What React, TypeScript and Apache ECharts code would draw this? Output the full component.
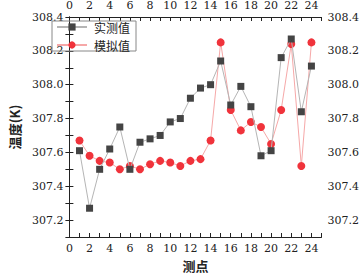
import React, { useEffect, useRef } from "react";
import * as echarts from "echarts";

const points = [1, 2, 3, 4, 5, 6, 7, 8, 9, 10, 11, 12, 13, 14, 15, 16, 17, 18, 19, 20, 21, 22, 23, 24];
const measured = [307.61, 307.27, 307.5, 307.62, 307.75, 307.5, 307.66, 307.68, 307.7, 307.78, 307.8, 307.92, 307.98, 308.0, 308.14, 307.88, 307.99, 307.87, 307.58, 307.61, 308.16, 308.27, 307.84, 308.11];
const simulated = [307.67, 307.58, 307.55, 307.54, 307.5, 307.52, 307.5, 307.53, 307.55, 307.54, 307.52, 307.55, 307.56, 307.67, 308.25, 307.85, 307.73, 307.78, 307.75, 307.65, 307.85, 308.24, 307.52, 308.25];
const seriesNames = ["实测值", "模拟值"];
const xTitle = "测点";
const yTitle = "温度(K)";

const serif = "DejaVu Serif";
const cjk = "Noto Sans CJK SC";

export default function App() {
  const ref = useRef<HTMLDivElement>(null);
  useEffect(() => {
    if (!ref.current) return;
    const chart = echarts.init(ref.current, undefined, { renderer: "svg" });
    const axisLine = { show: true, lineStyle: { color: "#222", width: 1 } };
    const tick = { show: true, inside: true, length: 4, lineStyle: { color: "#222", width: 1 } };
    const xLabel = {
      fontFamily: serif,
      fontSize: 11,
      color: "#222",
      margin: 6,
      formatter: (v: number) => (Math.round(v) % 2 === 0 ? String(Math.round(v)) : ""),
    };
    const yLabel = {
      fontFamily: serif,
      fontSize: 11,
      color: "#222",
      margin: 6,
      formatter: (v: number) => {
        const t = Math.round(v * 10);
        return t % 2 === 0 ? (t / 10).toFixed(1) : "";
      },
    };
    chart.setOption({
      animation: false,
      backgroundColor: "#fff",
      grid: { left: 46, right: 32, top: 15, bottom: 31 },
      legend: {
        left: 52,
        top: 21,
        orient: "vertical",
        borderColor: "#888",
        borderWidth: 1,
        borderRadius: 0,
        padding: [0, 6, 0, 4],
        itemGap: 6,
        itemWidth: 30,
        itemHeight: 9,
        textStyle: { fontFamily: cjk, fontSize: 12, lineHeight: 12, color: "#222", padding: [0, 0, 0, 2] },
        data: seriesNames,
      },
      xAxis: [
        {
          type: "value",
          min: 0,
          max: 25,
          interval: 1,
          position: "bottom",
          name: xTitle,
          nameLocation: "middle",
          nameGap: 22,
          nameTextStyle: { fontFamily: cjk, fontSize: 13, fontWeight: "bold", color: "#222" },
          axisLine,
          axisTick: tick,
          axisLabel: xLabel,
          splitLine: { show: false },
        },
        {
          type: "value",
          min: 0,
          max: 25,
          interval: 1,
          position: "top",
          axisLine,
          axisTick: tick,
          axisLabel: xLabel,
          splitLine: { show: false },
        },
      ],
      yAxis: [
        {
          type: "value",
          min: 307.1,
          max: 308.4,
          interval: 0.1,
          position: "left",
          name: yTitle,
          nameLocation: "middle",
          nameGap: 36,
          nameTextStyle: { fontFamily: cjk, fontSize: 13, fontWeight: "bold", color: "#222" },
          axisLine,
          axisTick: tick,
          axisLabel: yLabel,
          splitLine: { show: false },
        },
        {
          type: "value",
          min: 307.1,
          max: 308.4,
          interval: 0.1,
          position: "right",
          axisLine,
          axisTick: tick,
          axisLabel: yLabel,
          splitLine: { show: false },
        },
      ],
      series: [
        {
          name: seriesNames[0],
          type: "line",
          data: points.map((p, i) => [p, measured[i]]),
          symbol: "rect",
          symbolSize: 7,
          lineStyle: { color: "#b5b5b5", width: 1 },
          itemStyle: { color: "#444" },
          z: 3,
        },
        {
          name: seriesNames[1],
          type: "line",
          data: points.map((p, i) => [p, simulated[i]]),
          symbol: "circle",
          symbolSize: 8,
          lineStyle: { color: "#f6a8a8", width: 1 },
          itemStyle: { color: "#f0333b" },
          z: 2,
        },
      ],
    });
    return () => chart.dispose();
  }, []);
  return <div ref={ref} style={{ width: 362, height: 277, position: "absolute", left: 0, top: 0 }} />;
}
